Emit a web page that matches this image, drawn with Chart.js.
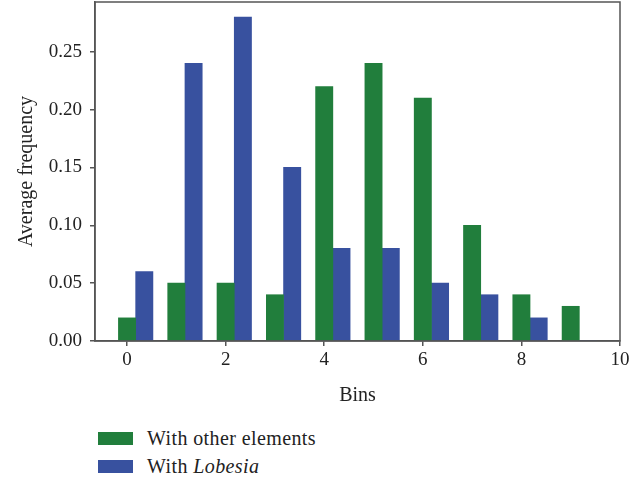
<!DOCTYPE html>
<html>
<head>
<meta charset="utf-8">
<script src="https://cdn.jsdelivr.net/npm/chart.js@4/dist/chart.umd.min.js"></script>
<style>
  body { margin: 0; background: #fff; }
  #wrap { position: relative; width: 644px; height: 479px; }
  #legend { position: absolute; left: 98px; top: 424px; font-family: "Liberation Serif", serif; font-size: 20px; color: #222; letter-spacing: 0.4px; }
  .item { display: flex; align-items: center; height: 28px; }
  .box { width: 35px; height: 13px; margin-right: 14px; }
</style>
</head>
<body>
<div id="wrap">
  <canvas id="chart" width="644" height="412"></canvas>
  <div id="legend"></div>
</div>
<script>
// data
const bins = [0, 1, 2, 3, 4, 5, 6, 7, 8, 9];
const otherElements = [0.02, 0.05, 0.05, 0.04, 0.22, 0.24, 0.21, 0.10, 0.04, 0.03];
const withLobesia = [0.06, 0.24, 0.28, 0.15, 0.08, 0.08, 0.05, 0.04, 0.02, 0];
const xTicks = [0, 2, 4, 6, 8, 10];
const yTicks = [0, 0.05, 0.10, 0.15, 0.20, 0.25];

const seriesNames = ["With other elements", "With <i>Lobesia</i>"];
const colours = ["#217e3c", "#38519f"];
const offset = 0.35; // blue bar sits right of the green one, same width

const FONT = "'Liberation Serif', serif";
const ink = "#222";
const axisCol = "#555";

// box round the plot area
const frame = {
    id: "frame",
    afterDraw(chart) {
        const a = chart.chartArea;
        const c = chart.ctx;
        c.save();
        c.strokeStyle = axisCol;
        c.lineWidth = 1.5;
        c.strokeRect(a.left, a.top, a.right - a.left, a.bottom - a.top);
        c.restore();
    }
};

new Chart(document.getElementById("chart"), {
    type: "bar",
    data: {
        datasets: [
            {
                label: "With other elements",
                data: bins.map((b, i) => ({ x: b, y: otherElements[i] })),
                backgroundColor: colours[0],
            },
            {
                label: "With Lobesia",
                data: bins.map((b, i) => ({ x: b + offset, y: withLobesia[i] })),
                backgroundColor: colours[1],
            },
        ],
    },
    options: {
        responsive: false,
        animation: false,
        grouped: false,
        barPercentage: 1,
        categoryPercentage: 1,
        layout: { padding: { top: 2, right: 24 } },
        plugins: { legend: { display: false }, tooltip: { enabled: false } },
        scales: {
            x: {
                type: "linear",
                offset: false,
                min: -0.65,
                max: 10,
                afterBuildTicks: (s) => { s.ticks = xTicks.map((v) => ({ value: v })); },
                afterFit: (s) => { s.height = 71; s.paddingLeft = 0; s.paddingRight = 0; },
                grid: { offset: false, drawOnChartArea: false, tickLength: 5, color: axisCol, lineWidth: 1.5 },
                border: { color: axisCol, width: 1.5 },
                ticks: { font: { family: FONT, size: 19 }, color: ink, padding: 3 },
                title: { display: true, text: "Bins", font: { family: FONT, size: 20 }, color: ink, padding: { top: 2 } },
            },
            y: {
                min: 0,
                max: 0.293,
                afterBuildTicks: (s) => { s.ticks = yTicks.map((v) => ({ value: v })); },
                afterFit: (s) => { s.width = 95; s.paddingTop = 0; s.paddingBottom = 0; },
                grid: { drawOnChartArea: false, tickLength: 5, color: axisCol, lineWidth: 1.5 },
                border: { color: axisCol, width: 1.5 },
                ticks: { font: { family: FONT, size: 19 }, color: ink, padding: 8, callback: (v) => v.toFixed(2) },
                title: { display: true, text: "Average frequency", font: { family: FONT, size: 20 }, color: ink, padding: { top: 15, bottom: 0 } },
            },
        },
    },
    plugins: [frame],
});

// legend on two lines, as in the figure
document.getElementById("legend").innerHTML = seriesNames
    .map((n, i) => `<div class="item"><span class="box" style="background:${colours[i]}"></span><span>${n}</span></div>`)
    .join("");
</script>
</body>
</html>
